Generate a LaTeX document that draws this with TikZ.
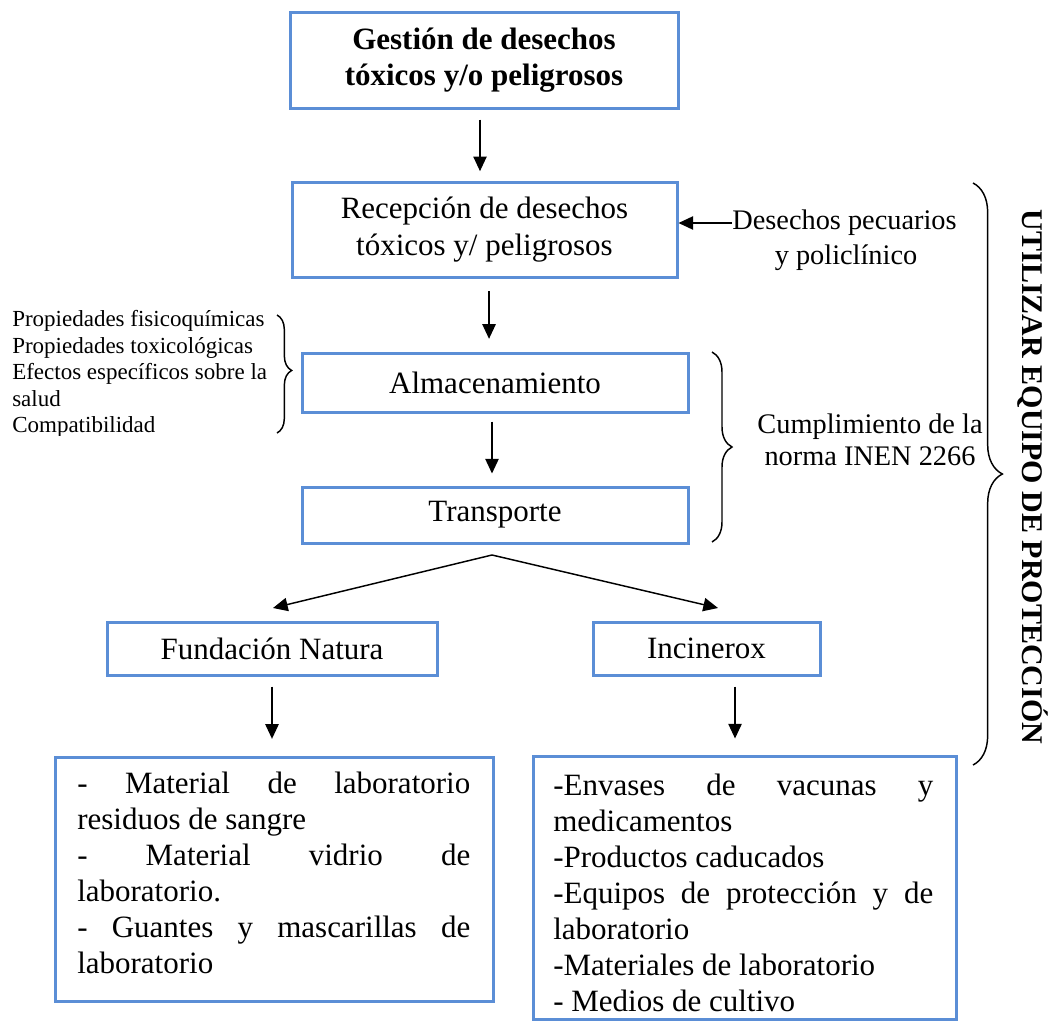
\documentclass[tikz,border=0pt]{standalone}
\usepackage{fontspec}
\setmainfont{Liberation Serif}
\usetikzlibrary{arrows.meta,decorations.pathreplacing}
\definecolor{boxblue}{RGB}{91,142,214}
\begin{document}
\begin{tikzpicture}[x=0.75pt,y=-0.75pt,
  box/.style={draw=boxblue, line width=2.25pt, inner sep=0pt, align=center},
  arr/.style={line width=1.1pt, -{Triangle[length=11pt,width=10pt]}},
  brc/.style={decorate, line width=1.1pt, decoration={brace, amplitude=#1}},
  big/.style={font=\fontsize{23.25pt}{27.5pt}\selectfont},
  mid/.style={font=\fontsize{21.25pt}{24pt}\selectfont},
  small/.style={font=\fontsize{17.25pt}{20pt}\selectfont},
  ln/.style={anchor=base west, inner sep=0pt}
]
\useasboundingbox (0,0) rectangle (1057,1021);

% main boxes
\node[box, big, minimum width=291pt, minimum height=72pt] (b1) at (484,60)
  {\bfseries Gestión de desechos\\\bfseries tóxicos y/o peligrosos};
\node[box, big, minimum width=288.75pt, minimum height=71.25pt] (b2) at (484.5,229.5)
  {Recepción de desechos\\tóxicos y/ peligrosos};
\node[box, big, minimum width=289.5pt, minimum height=44.25pt] (b3) at (495,382.5)
  {Almacenamiento};
\node[box, big, minimum width=289.5pt, minimum height=42pt] (b4) at (495,515)
  {Transporte};
\node[box, big, minimum width=247.5pt, minimum height=39.75pt] (b5) at (272,648.5)
  {Fundación Natura};
\node[box, big, minimum width=170.25pt, minimum height=39.75pt] (b6) at (706.5,648.5)
  {Incinerox};
\node[box, minimum width=328.5pt, minimum height=183pt] (b7) at (274,879) {};
\node[box, minimum width=317.25pt, minimum height=197.25pt] (b8) at (744.5,887.5) {};

% text of the bottom left box
\begin{scope}[big]
\node[ln] (l1) at (77,793) {\makebox[294.75pt][s]{- Material de laboratorio}};
\node[ln] (l2) at (77,829) {residuos de sangre};
\node[ln] (l3) at (77,865) {\makebox[294.75pt][s]{- Material vidrio de}};
\node[ln] (l4) at (77,901) {laboratorio.};
\node[ln] (l5) at (77,937) {\makebox[294.75pt][s]{- Guantes y mascarillas de}};
\node[ln] (l6) at (77,973) {laboratorio};
% text of the bottom right box
\node[ln] (r1) at (553,795) {\makebox[285pt][s]{-Envases de vacunas y}};
\node[ln] (r2) at (553,831) {medicamentos};
\node[ln] (r3) at (553,867) {-Productos caducados};
\node[ln] (r4) at (553,903) {\makebox[285pt][s]{-Equipos de protección y de}};
\node[ln] (r5) at (553,939) {laboratorio};
\node[ln] (r6) at (553,975) {-Materiales de laboratorio};
\node[ln] (r7) at (553,1011) {- Medios de cultivo};
\end{scope}

% left list (bottom clipped as in the reference)
\begin{scope}[small]
\clip (0,300) rectangle (275,435);
\node[ln] (p1) at (12,326) {Propiedades fisicoquímicas};
\node[ln] (p2) at (12,353) {Propiedades toxicológicas};
\node[ln] (p3) at (12,379.5) {Efectos específicos sobre la};
\node[ln] (p4) at (12,406) {salud};
\node[ln] (p5) at (12,432.5) {Compatibilidad};
\end{scope}

% side texts
\node[mid, inner sep=0pt] (dp) at (844.5,223) {Desechos pecuarios};
\node[mid, inner sep=0pt] (dp2) at (846,258) {y policlínico};
\node[mid, inner sep=0pt, align=center] (cu) at (870,440)
  {Cumplimiento de la\\norma INEN 2266};
\node[font=\fontsize{22.5pt}{26pt}\selectfont\bfseries, rotate=-90, inner sep=0pt] (ut)
  at (1033,477) {UTILIZAR EQUIPO DE PROTECCIÓN};

% braces
\coordinate (lbT) at (277,315); \coordinate (lbB) at (277,433);
\coordinate (mbT) at (712,352); \coordinate (mbB) at (712,542);
\coordinate (gbT) at (973,183); \coordinate (gbB) at (973,765);
\draw[brc=11pt, decoration={aspect=0.47}] (lbT) -- (lbB);
\draw[brc=15pt] (mbT) -- (mbB);
\draw[brc=22pt] (gbT) -- (gbB);

% connectors
\draw[arr, shorten <=7.5pt, shorten >=7pt] ([xshift=-3pt]b1.south) -- ([xshift=-3pt]b1.south |- b2.north);
\draw[arr, shorten <=9.5pt, shorten >=9.5pt] ([xshift=3.4pt]b2.south) -- ([xshift=3.4pt]b2.south |- b3.north);
\draw[arr, shorten <=6pt, shorten >=9pt] ([xshift=-2.25pt]b3.south) -- ([xshift=-2.25pt]b3.south |- b4.north);
\draw[arr] (dp.west) -- (b2.east |- dp.west);
\coordinate (apex) at (492,555);
\coordinate (tl) at (273,608);
\coordinate (tr) at (718,608);
\draw[line width=1.1pt, -{Triangle[length=11pt,width=10pt]}] (apex) -- (tl);
\draw[line width=1.1pt, -{Triangle[length=11pt,width=10pt]}] (apex) -- (tr);
\draw[arr, shorten <=7.5pt, shorten >=12.5pt] (b5.south) -- (b5.south |- b7.north);
\draw[arr, shorten <=7.5pt, shorten >=12pt] ([xshift=21.4pt]b6.south) -- ([xshift=21.4pt]b6.south |- b8.north);
\end{tikzpicture}
\end{document}
